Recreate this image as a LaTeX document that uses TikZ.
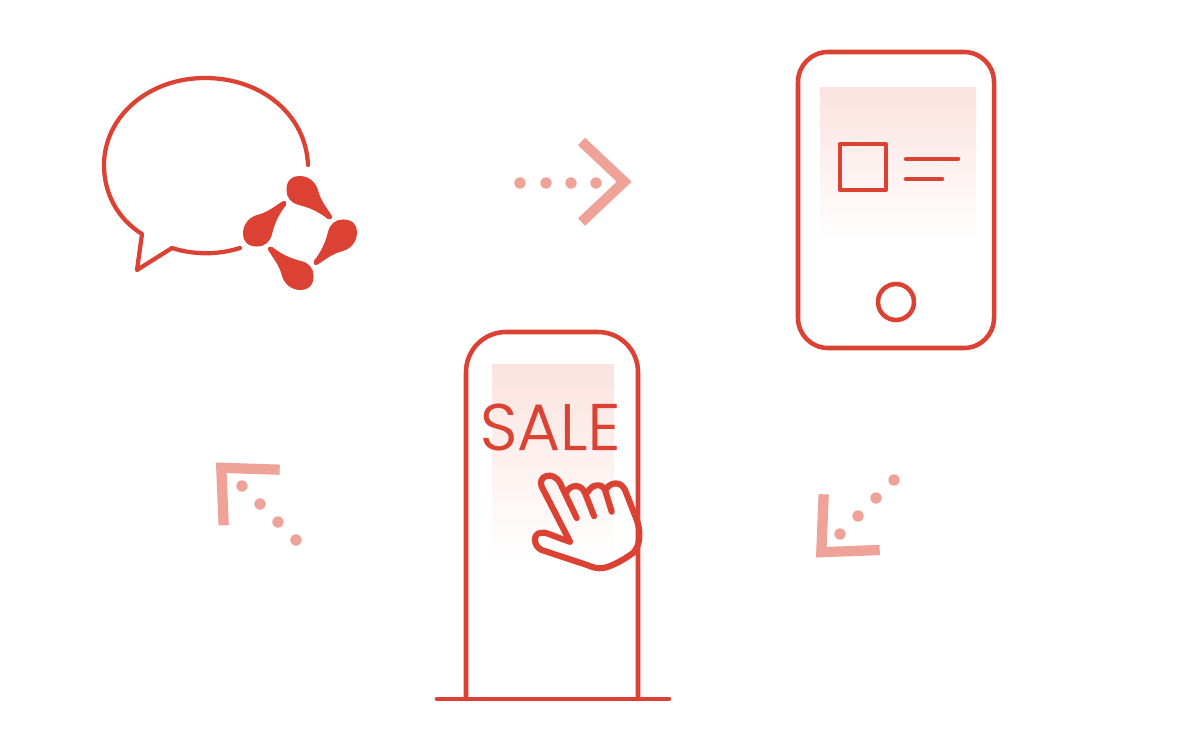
\documentclass[tikz,border=0pt]{standalone}
\usepackage{fontspec}
\newfontfamily\salefont{Poppins}[UprightFont=* Light,UprightFeatures={FakeBold=0.5}]
\definecolor{salered}{HTML}{DC4234}
\definecolor{salepale}{HTML}{EEA298}
\definecolor{saletint}{HTML}{FBE3DF}
\tikzset{
  outline/.style={draw=salered,line width=3.4pt,line cap=round,line join=round},
  thinline/.style={draw=salered,line width=3.2pt,line cap=round,line join=round},
  handline/.style={draw=salered,line width=4.6pt,line cap=round,line join=round},
  chevron/.style={draw=salepale,line width=7.7pt,line join=miter},
  dotmark/.style={fill=salepale}
}
\begin{document}
\begin{tikzpicture}[x=0.75pt,y=-0.75pt]
  \useasboundingbox (0,0) rectangle (1180,752);
  % screen tints
  \shade[top color=saletint,bottom color=white] (820,88) rectangle (976,240);
  \shade[top color=saletint,bottom color=white] (492,364) rectangle (614,560);
  % speech bubble
  \draw[thinline] (308,165) .. controls (306,115) and (262,78) .. (205,78)
    .. controls (148,78) and (104,117) .. (104,165)
    .. controls (104,194) and (118,219) .. (142,234)
    -- (137,270) -- (172,248)
    .. controls (194,255) and (218,255) .. (240,248);
  % four petals
  \foreach \a in {0,90,180,270} {
    \filldraw[salered,line width=0.8pt,line join=round,rotate around={\a:(300,233)}]
      (287,190) .. controls (287,181) and (292,176.5) .. (299,176.5)
      .. controls (309,176.5) and (316,183) .. (318,192)
      .. controls (320,200) and (326,208) .. (331,215.5)
      .. controls (332.5,218) and (330,220) .. (328,218.5)
      .. controls (320,212) and (310,207) .. (299,204.5)
      .. controls (291,202.5) and (287,197) .. (287,190) -- cycle;
  }
  % phone
  \draw[outline] (798,82) arc (180:270:30) -- (964,52) arc (270:360:30)
    -- (994,318) arc (0:90:30) -- (828,348) arc (90:180:30) -- cycle;
  \draw[outline] (840,144) rectangle (886,190);
  \draw[outline] (906,159) -- (958,159);
  \draw[outline] (906,179) -- (942,179);
  \draw[outline] (896,302) circle (18);
  % kiosk
  \draw[outline] (466,699) -- (466,372) arc (180:270:40) -- (598,332)
    arc (270:360:40) -- (638,699);
  \draw[outline] (437,699) -- (669,699);
  \node[text=salered,inner sep=0pt,font=\salefont\fontsize{49pt}{49pt}\selectfont] (saleword) at (550,427) {SALE};
  % hand
  \draw[handline] (570,541.7) -- (541.7,486.7)
    .. controls (537,476) and (553,470) .. (560,483) -- (576.7,518);
  \draw[handline] (566.7,491.7)
    .. controls (570,485) and (581,483) .. (585,493) -- (594,516);
  \draw[handline] (588,491.7)
    .. controls (592,484) and (602,483) .. (605,490) -- (611.7,511.7);
  \draw[handline] (606.7,488.3)
    .. controls (611,482) and (621,481) .. (625,490) -- (636,518)
    .. controls (641,530) and (641,545) .. (633,553)
    .. controls (622,561) and (610,567) .. (603,568)
    .. controls (597,569) and (592,567) .. (587,565) -- (541.7,550)
    .. controls (533,546) and (533,534) .. (540,533)
    .. controls (545,531) and (552,536) .. (570,541.7);
  % arrow right
  \draw[chevron] (581.5,141.5) -- (624.2,181.7) -- (581.5,222);
  \foreach \x in {520,546,571,596}
    \fill[dotmark] (\x,183) circle (5.7);
  % arrow upper left
  \draw[chevron] (279.7,469.7) -- (221.3,467.8) -- (223.7,525.3);
  \foreach \x/\y in {242/486,260/504,278/522,296/540}
    \fill[dotmark] (\x,\y) circle (5.7);
  % arrow lower right
  \draw[chevron] (823.7,494.3) -- (821.3,552.2) -- (879.7,550);
  \foreach \x/\y in {840/534,858/516,876/498,894/480}
    \fill[dotmark] (\x,\y) circle (5.7);
\end{tikzpicture}
\end{document}
